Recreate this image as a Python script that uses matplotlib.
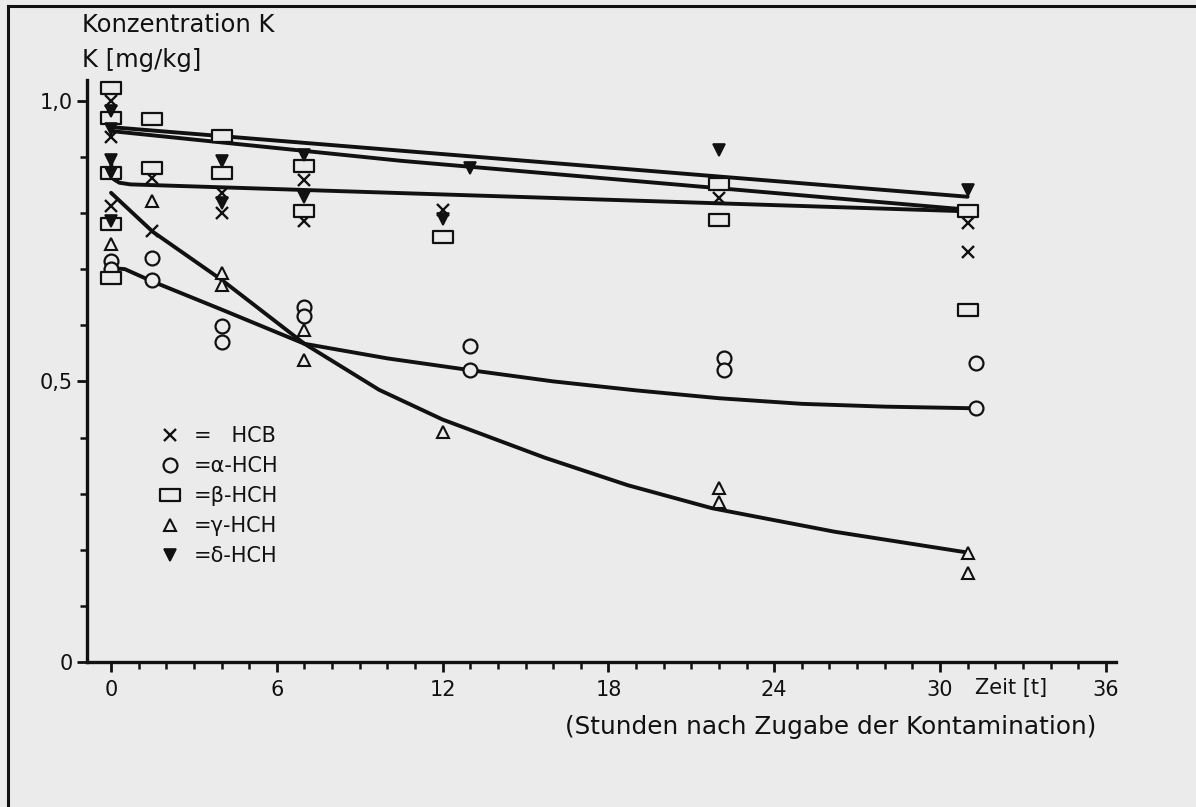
import matplotlib
matplotlib.use("Agg")
import matplotlib.pyplot as plt
from matplotlib.path import Path
from matplotlib.ticker import MultipleLocator, FixedLocator
from matplotlib.lines import Line2D

# ---------------- data ----------------
# measured points, time in hours, concentration K in mg/kg
hcb_t = [0, 0, 0, 1.5, 1.5, 4, 4, 7, 7, 12, 22, 31, 31]
hcb_k = [0.999, 0.935, 0.813, 0.862, 0.768, 0.836, 0.800, 0.859, 0.785, 0.806, 0.827, 0.782, 0.730]

alpha_t = [0, 0, 1.5, 1.5, 4, 4, 7, 7, 13, 13, 22.2, 22.2, 31.3, 31.3]
alpha_k = [0.715, 0.700, 0.720, 0.680, 0.598, 0.571, 0.633, 0.616, 0.563, 0.520, 0.542, 0.520, 0.532, 0.452]

beta_t = [0, 0, 0, 0, 0, 1.5, 1.5, 4, 4, 7, 7, 12, 22, 22, 31, 31]
beta_k = [1.023, 0.970, 0.872, 0.780, 0.685, 0.967, 0.880, 0.938, 0.871, 0.883, 0.803, 0.758, 0.852, 0.788, 0.803, 0.627]

gamma_t = [0, 1.5, 4, 4, 7, 7, 12, 22, 22, 31, 31]
gamma_k = [0.745, 0.821, 0.693, 0.672, 0.592, 0.538, 0.410, 0.310, 0.285, 0.195, 0.159]

delta_t = [0, 0, 0, 0, 0, 4, 4, 7, 7, 12, 13, 22, 31]
delta_k = [0.982, 0.950, 0.895, 0.872, 0.786, 0.892, 0.817, 0.904, 0.828, 0.790, 0.880, 0.913, 0.841]

# fitted curves as drawn in the picture
delta_fit_t = [0, 31]
delta_fit_k = [0.953, 0.829]
beta_fit_t = [0, 10.5, 31]
beta_fit_k = [0.946, 0.893, 0.806]
hcb_fit_t = [0, 0.02, 0.1, 0.3, 0.7, 31]
hcb_fit_k = [0.900, 0.875, 0.860, 0.854, 0.851, 0.803]
alpha_fit_t = [0, 0.5, 1.5, 4, 7, 10, 13, 16, 19, 22, 25, 28, 31.3]
alpha_fit_k = [0.702, 0.700, 0.678, 0.628, 0.567, 0.541, 0.520, 0.500, 0.484, 0.470, 0.460, 0.455, 0.452]
gamma_fit_t = [0, 1.5, 4, 7, 9.7, 12, 15.7, 18.7, 21.75, 26.2, 31]
gamma_fit_k = [0.836, 0.767, 0.681, 0.567, 0.485, 0.432, 0.364, 0.315, 0.274, 0.232, 0.195]

x_major = [0, 6, 12, 18, 24, 30, 36]
y_major = [0, 0.5, 1.0]
y_labels = ["0", "0,5", "1,0"]

legend_labels = ["=   HCB", "=α-HCH", "=β-HCH", "=γ-HCH", "=δ-HCH"]

# ---------------- styling ----------------
BG = "#ebebeb"
INK = "#111111"
plt.rcParams["font.family"] = ["DejaVu Sans"]

W, H = 1196, 807
fig = plt.figure(figsize=(W / 100, H / 100), dpi=100, facecolor=BG)

# axes: y-axis at px 87, x range to px 1116; y=0 at px 662, top at px 80
left_px, right_px, bottom_px, top_px = 87, 1116, 662, 80
ax = fig.add_axes([left_px / W, 1 - bottom_px / H,
                   (right_px - left_px) / W, (bottom_px - top_px) / H])
ax.set_facecolor("none")
ax.set_xlim(-0.87, 36.37)
ax.set_ylim(0, 1.037)

for s in ("top", "right"):
    ax.spines[s].set_visible(False)
for s in ("left", "bottom"):
    ax.spines[s].set_linewidth(2.4)
    ax.spines[s].set_color(INK)

lw_fit = 2.8
ax.plot(delta_fit_t, delta_fit_k, color=INK, lw=lw_fit, solid_capstyle="round", zorder=2)
ax.plot(beta_fit_t, beta_fit_k, color=INK, lw=lw_fit, solid_capstyle="round", zorder=2)
ax.plot(hcb_fit_t, hcb_fit_k, color=INK, lw=lw_fit, solid_capstyle="round", zorder=2)
ax.plot(alpha_fit_t, alpha_fit_k, color=INK, lw=lw_fit, solid_capstyle="round", zorder=2)
ax.plot(gamma_fit_t, gamma_fit_k, color=INK, lw=lw_fit, solid_capstyle="round", zorder=2)

rect_marker = Path([(-1, -0.6), (1, -0.6), (1, 0.6), (-1, 0.6), (-1, -0.6)],
                   [Path.MOVETO, Path.LINETO, Path.LINETO, Path.LINETO, Path.CLOSEPOLY])

h_hcb, = ax.plot(hcb_t, hcb_k, ls="none", marker="x", ms=9, mew=1.7, color=INK,
                 clip_on=False, zorder=4)
h_alpha, = ax.plot(alpha_t, alpha_k, ls="none", marker="o", ms=10, mew=1.6, mec=INK,
                   mfc=BG, clip_on=False, zorder=4)
h_beta, = ax.plot(beta_t, beta_k, ls="none", marker=rect_marker, ms=14, mew=1.6, mec=INK,
                  mfc=BG, clip_on=False, zorder=4)
h_gamma, = ax.plot(gamma_t, gamma_k, ls="none", marker="^", ms=8, mew=1.5, mec=INK,
                   mfc=BG, clip_on=False, zorder=4)
h_delta, = ax.plot(delta_t, delta_k, ls="none", marker="v", ms=9, mew=1.2, mec=INK,
                   mfc=INK, clip_on=False, zorder=5)

# ticks
ax.xaxis.set_major_locator(FixedLocator(x_major))
ax.xaxis.set_minor_locator(MultipleLocator(1))
ax.set_xticklabels([str(v) for v in x_major])
ax.yaxis.set_major_locator(FixedLocator(y_major))
ax.yaxis.set_minor_locator(MultipleLocator(0.1))
ax.set_yticklabels(y_labels)
ax.tick_params(axis="both", which="major", direction="out", length=7, width=2,
               color=INK, labelcolor=INK, labelsize=15)
ax.tick_params(axis="both", which="minor", direction="out", length=5, width=1.8, color=INK)
ax.tick_params(axis="x", which="major", pad=6)
ax.tick_params(axis="y", which="major", pad=3)

# legend
leg = ax.legend([h_hcb, h_alpha, h_beta, h_gamma, h_delta], legend_labels,
                loc="upper left", bbox_to_anchor=(156 / W, 1 - 426 / H),
                bbox_transform=fig.transFigure, frameon=False, fontsize=15,
                borderpad=0, handlelength=1.3, handletextpad=0.5,
                labelspacing=0.48, borderaxespad=0)
for t in leg.get_texts():
    t.set_color(INK)

# texts
fig.text(82 / W, 1 - 25 / H, "Konzentration K", fontsize=17.5, color=INK,
         ha="left", va="center")
fig.text(82 / W, 1 - 60 / H, "K [mg/kg]", fontsize=17.5, color=INK,
         ha="left", va="center")
fig.text(975 / W, 1 - 688 / H, "Zeit [t]", fontsize=15, color=INK,
         ha="left", va="center")
fig.text(565 / W, 1 - 727 / H, "(Stunden nach Zugabe der Kontamination)", fontsize=17.8,
         color=INK, ha="left", va="center")

# scan frame (top and left edge)
fig.add_artist(Line2D([8 / W, 1.0], [1 - 6 / H, 1 - 6 / H], transform=fig.transFigure,
                      color=INK, lw=2.2))
fig.add_artist(Line2D([8 / W, 8 / W], [0, 1 - 6 / H], transform=fig.transFigure,
                      color=INK, lw=2.2))

fig.savefig("out.png", dpi=100, facecolor=BG)
